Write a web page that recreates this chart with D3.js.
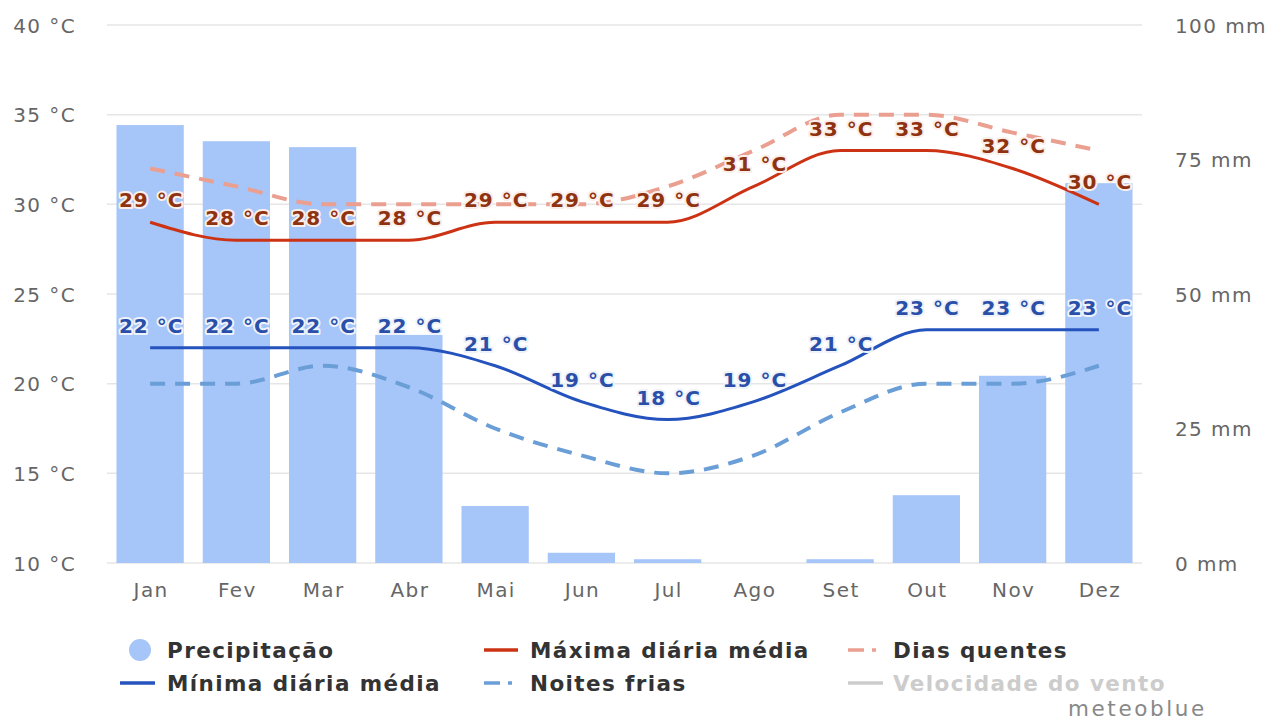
<!DOCTYPE html>
<html><head><meta charset="utf-8">
<script src="https://cdn.jsdelivr.net/npm/d3@7"></script>
<style>
html,body{margin:0;padding:0;background:#fff;}
svg{display:block;font-family:"DejaVu Sans",Verdana,sans-serif;}
</style></head>
<body><svg id="c" width="1271" height="720"></svg>
<script>
const months = ["Jan","Fev","Mar","Abr","Mai","Jun","Jul","Ago","Set","Out","Nov","Dez"];
const precip = [81.4,78.4,77.3,42.4,10.6,1.9,0.7,0,0.7,12.6,34.8,70.6];
const tMax = [29,28,28,28,29,29,29,31,33,33,32,30];
const tMin = [22,22,22,22,21,19,18,19,21,23,23,23];
const hotDays = [32,31,30,30,30,30,31,33,35,35,34,33];
const coldNights = [20,20,21,19.8,17.5,16,15,16,18.4,20,20,21];
const tempTicks = [10,15,20,25,30,35,40];
const precTicks = [0,25,50,75,100];

const svg = d3.select("#c");
const x = d3.scaleBand().domain(months).range([107,1142]).paddingInner(0.22).paddingOuter(0.11);
const yT = d3.scaleLinear().domain([10,40]).range([563,25]);
const yP = d3.scaleLinear().domain([0,100]).range([563,25]);
const cx = m => x(m) + x.bandwidth()/2;

// grid
svg.append("g").selectAll("line").data(tempTicks).join("line")
  .attr("x1",107).attr("x2",1142).attr("y1",d=>yT(d)).attr("y2",d=>yT(d))
  .attr("stroke","#e6e6e6").attr("stroke-width",1.5);

function styleAxisText(g){
  g.selectAll("text").attr("font-size",20).attr("fill","#666").attr("font-family","DejaVu Sans")
    .attr("letter-spacing","1.4px").attr("dy","0.35em");
}
// left axis
const gl = svg.append("g").attr("transform","translate(76,0)")
  .call(d3.axisLeft(yT).tickValues(tempTicks).tickFormat(d=>d+" °C").tickSize(0).tickPadding(0));
gl.select(".domain").remove();
styleAxisText(gl);

// right axis
const gr = svg.append("g").attr("transform","translate(1175,0)")
  .call(d3.axisRight(yP).tickValues(precTicks).tickFormat(d=>d+" mm").tickSize(0).tickPadding(0));
gr.select(".domain").remove();
styleAxisText(gr);

// bottom axis
const gb = svg.append("g").attr("transform","translate(1,563)")
  .call(d3.axisBottom(x).tickSize(0).tickPadding(27));
gb.select(".domain").remove();
styleAxisText(gb);

// bars
svg.append("g").selectAll("rect").data(months).join("rect")
  .attr("x",d=>x(d)).attr("width",x.bandwidth())
  .attr("y",(d,i)=>yP(precip[i])).attr("height",(d,i)=>yP(0)-yP(precip[i]))
  .attr("fill","#a6c5f9");

const line = yS => d3.line().x((d,i)=>cx(months[i])).y(d=>yS(d)).curve(d3.curveMonotoneX);

function drawLine(data, color, width, dash){
  const p = svg.append("path").datum(data).attr("d",line(yT))
    .attr("fill","none").attr("stroke",color).attr("stroke-width",width).attr("stroke-linecap","butt");
  if(dash) p.attr("stroke-dasharray",dash);
}
drawLine(coldNights,"#6a9ed6",4,"15,10");
drawLine(hotDays,"#ea9f90",4,"15,10");
drawLine(tMin,"#2553bd",3,null);
drawLine(tMax,"#cc3314",3,null);

function labels(data, color, halo){
  svg.append("g").selectAll("text").data(data).join("text")
    .attr("x",(d,i)=>cx(months[i])+1).attr("y",d=>yT(d)-15)
    .attr("text-anchor","middle").attr("font-size",20).attr("font-weight","bold")
    .attr("font-family","DejaVu Sans").attr("letter-spacing","1px")
    .attr("fill",color).attr("stroke",halo).attr("stroke-width",4).attr("stroke-linejoin","round")
    .attr("paint-order","stroke")
    .text(d=>d+" °C");
}
labels(tMax,"#8e3210","#fbeee9");
labels(tMin,"#2a4fa8","#eef2fb");

// legend
const leg = svg.append("g").attr("font-family","DejaVu Sans").attr("font-weight","bold")
  .attr("font-size",21.5).attr("letter-spacing","1.4px");
const legendItems = [
  {t:"Precipitação", x:167, y:658, type:"circle", c:"#a6c5f9", fc:"#333"},
  {t:"Máxima diária média", x:530, y:658, type:"line", c:"#cc3314", fc:"#333", mx:[484,518]},
  {t:"Dias quentes", x:893, y:658, type:"dash", c:"#ea9f90", fc:"#333", mx:[848,880]},
  {t:"Mínima diária média", x:167, y:691, type:"line", c:"#2553bd", fc:"#333", mx:[120,155]},
  {t:"Noites frias", x:530, y:691, type:"dash", c:"#6a9ed6", fc:"#333", mx:[484,518]},
  {t:"Velocidade do vento", x:893, y:691, type:"line", c:"#cccccc", fc:"#cccccc", mx:[848,883]}
];
legendItems.forEach(it=>{
  if(it.type==="circle"){
    leg.append("circle").attr("cx",140).attr("cy",it.y-8).attr("r",11).attr("fill",it.c);
  } else {
    leg.append("line").attr("x1",it.mx[0]).attr("x2",it.mx[1]).attr("y1",it.y-8).attr("y2",it.y-8)
      .attr("stroke",it.c).attr("stroke-width",3.5)
      .attr("stroke-dasharray",it.type==="dash"?"16,8,4,20":null);
  }
  leg.append("text").attr("x",it.x).attr("y",it.y).attr("fill",it.fc).text(it.t);
});
svg.append("text").attr("x",1068).attr("y",716)
  .attr("font-family","DejaVu Sans").attr("font-size",21.5).attr("letter-spacing","2.6px")
  .attr("fill","#888").text("meteoblue");
</script></body></html>
